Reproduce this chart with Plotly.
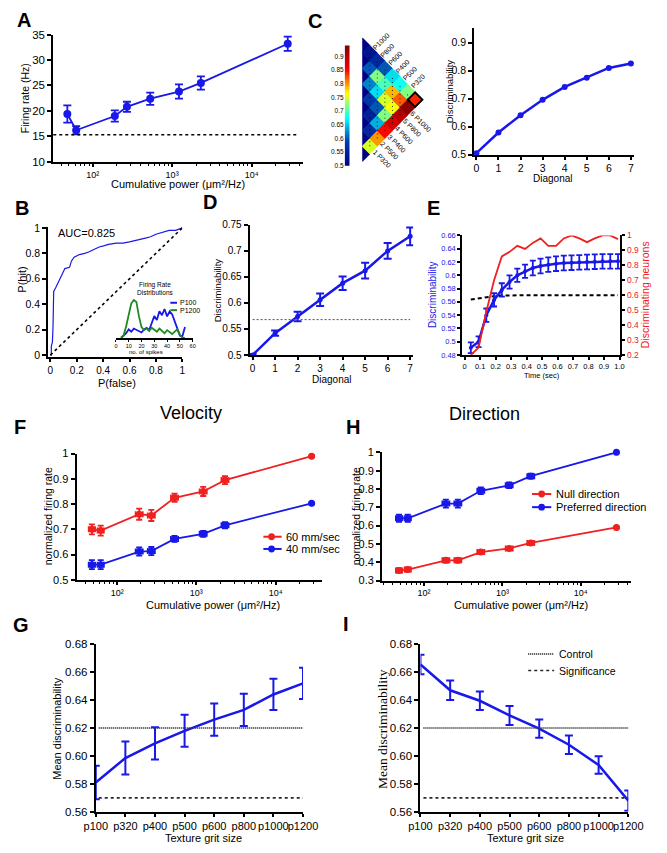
import numpy as np
import plotly.graph_objects as go

W, H = 667, 853
SANS = "Liberation Sans, Arial, Helvetica, sans-serif"
SERIF = "Liberation Serif, Times New Roman, serif"
BLUE = "#1818E8"
RED = "#F02020"
GREEN = "#1F8A1F"

# ---------------- data ----------------
power = [48, 62, 190, 270, 530, 1220, 2300, 28500]
rate_A = [19.4, 16.2, 19.0, 20.8, 22.4, 23.8, 25.5, 33.2]
rate_A_err = [1.7, 0.8, 1.1, 1.0, 1.2, 1.4, 1.3, 1.4]
rate_A_base = 15.3

roc_fpr = [0, 0.007, 0.007, 0.015, 0.02, 0.025, 0.04, 0.06, 0.08, 0.1, 0.11, 0.145, 0.16, 0.18, 0.22,
           0.26, 0.29, 0.33, 0.37, 0.41, 0.44, 0.5, 0.55, 0.6, 0.65, 0.68, 0.72, 0.76, 0.8, 0.83,
           0.87, 0.9, 0.95, 0.97, 1.0]
roc_tpr = [0, 0.0, 0.07, 0.1, 0.22, 0.5, 0.53, 0.57, 0.62, 0.66, 0.68, 0.69, 0.74, 0.77, 0.79,
           0.8, 0.81, 0.83, 0.85, 0.86, 0.87, 0.88, 0.88, 0.89, 0.9, 0.91, 0.92, 0.93, 0.95, 0.96,
           0.97, 0.98, 0.98, 0.99, 1.0]
roc_auc_label = "AUC=0.825"
spikes = [4, 6, 8, 10, 12, 14, 16, 18, 20, 22, 24, 26, 28, 30, 32, 34, 36, 38, 40, 42, 44, 46, 48, 50, 52, 54]
dist_p1200 = [0.02, 0.06, 0.3, 0.62, 0.88, 0.97, 0.92, 0.55, 0.28, 0.2, 0.24, 0.18, 0.26, 0.21, 0.16,
              0.24, 0.19, 0.12, 0.2, 0.14, 0.1, 0.16, 0.22, 0.08, 0.0, 0.0]
dist_p100 = [0.0, 0.06, 0.12, 0.22, 0.16, 0.24, 0.2, 0.17, 0.14, 0.22, 0.26, 0.2, 0.36, 0.56, 0.46,
             0.68, 0.58, 0.74, 0.55, 0.68, 0.6, 0.42, 0.22, 0.06, 0.05, 0.28]

heat_d0 = [0.5, 0.5, 0.5, 0.5, 0.5, 0.5, 0.5, 0.5]
heat_d1 = [0.75, 0.56, 0.55, 0.58, 0.62, 0.6, 0.53]
heat_d2 = [0.8, 0.64, 0.6, 0.66, 0.72, 0.56]
heat_d3 = [0.85, 0.72, 0.75, 0.7, 0.6]
heat_d4 = [0.88, 0.76, 0.79, 0.66]
heat_d5 = [0.9, 0.82, 0.68]
heat_d6 = [0.93, 0.72]
heat_d7 = [0.84]
heat_upper_labels = ["P1200", "P1000", "P800", "P600", "P400", "P500", "P320", "P100"]
heat_lower_labels = ["P100", "P320", "P500", "P400", "P600", "P800", "P1000", "P1200"]
cbar_ticks = [0.5, 0.55, 0.6, 0.65, 0.7, 0.75, 0.8, 0.85, 0.9]

diagonal = [0, 1, 2, 3, 4, 5, 6, 7]
diag_mean = [0.505, 0.579, 0.641, 0.696, 0.742, 0.775, 0.81, 0.826]

D_disc = [0.5, 0.542, 0.574, 0.606, 0.638, 0.662, 0.7, 0.728]
D_err = [0.002, 0.005, 0.009, 0.012, 0.013, 0.015, 0.015, 0.017]
D_sig = 0.568

E_time = [0.04, 0.09, 0.14, 0.19, 0.24, 0.29, 0.34, 0.39, 0.44, 0.49,
          0.54, 0.59, 0.64, 0.69, 0.74, 0.79, 0.84, 0.89, 0.94, 0.99]
E_disc = [0.491, 0.5, 0.54, 0.563, 0.578, 0.59, 0.6, 0.606, 0.611, 0.614,
          0.616, 0.6175, 0.6185, 0.619, 0.6195, 0.62, 0.6205, 0.621, 0.621, 0.621]
E_err = [0.008, 0.008, 0.01, 0.01, 0.01, 0.01, 0.01, 0.01, 0.011, 0.011,
         0.011, 0.011, 0.011, 0.011, 0.011, 0.011, 0.011, 0.011, 0.011, 0.011]
E_neurons = [0.2, 0.25, 0.49, 0.7, 0.86, 0.89, 0.93, 0.91, 0.95, 0.98,
             0.93, 0.93, 0.98, 1.0, 0.98, 0.955, 0.98, 1.0, 1.0, 0.975]
E_sig = [0.5635, 0.5655, 0.567, 0.5685, 0.5695, 0.57, 0.57, 0.57, 0.57, 0.57,
         0.57, 0.57, 0.57, 0.57, 0.57, 0.57, 0.57, 0.57, 0.57, 0.57]

F_60 = [0.70, 0.695, 0.76, 0.755, 0.825, 0.85, 0.895, 0.99]
F_60_err = [0.02, 0.02, 0.022, 0.022, 0.016, 0.018, 0.016, 0.004]
F_40 = [0.56, 0.56, 0.612, 0.614, 0.662, 0.682, 0.716, 0.803]
F_40_err = [0.018, 0.018, 0.016, 0.016, 0.012, 0.012, 0.012, 0.004]
H_pref = [0.64, 0.64, 0.72, 0.72, 0.79, 0.82, 0.87, 1.0]
H_pref_err = [0.02, 0.02, 0.022, 0.022, 0.018, 0.016, 0.014, 0.003]
H_null = [0.355, 0.36, 0.41, 0.41, 0.455, 0.475, 0.505, 0.59]
H_null_err = [0.012, 0.012, 0.012, 0.012, 0.01, 0.01, 0.008, 0.004]
power_err_dec = [0.04, 0.04, 0.045, 0.045, 0.045, 0.045, 0.045, 0.0]

grit = ["p100", "p320", "p400", "p500", "p600", "p800", "p1000", "p1200"]
G_disc = [0.581, 0.5985, 0.609, 0.618, 0.626, 0.633, 0.644, 0.652]
G_err = [0.012, 0.0118, 0.0115, 0.0114, 0.0115, 0.0115, 0.0112, 0.0112]
I_disc = [0.6655, 0.647, 0.6395, 0.629, 0.6195, 0.608, 0.5935, 0.568]
I_err = [0.007, 0.007, 0.0067, 0.0068, 0.0065, 0.0066, 0.0062, 0.0072]
control_level = 0.62
signif_level = 0.57

# ---------------- helpers ----------------
fig = go.Figure()
ann, shp = [], []


def xd(a, b):
    return [a / W, b / W]


def yd(top, bot):
    return [1 - bot / H, 1 - top / H]


def text(s, xp, yp, size, angle=0, color="black", bold=False, family=SANS, xanchor="center"):
    ann.append(dict(text=("<b>%s</b>" % s) if bold else s, x=xp / W, y=1 - yp / H,
                    xref="paper", yref="paper", showarrow=False, textangle=angle,
                    xanchor=xanchor, yanchor="middle",
                    font=dict(size=size, color=color, family=family)))


def base_axis(dom, rng, anchor, fsize, **kw):
    d = dict(range=rng, anchor=anchor, showline=True, linecolor="black", linewidth=2,
             ticks="outside", ticklen=4, tickwidth=2, tickcolor="black", showgrid=False,
             zeroline=False, tickangle=0, tickfont=dict(size=fsize, family=SANS, color="black"))
    if dom is not None:
        d["domain"] = dom
    d.update(kw)
    return d


def leg_line(x0, x1, y, color, dash="solid", width=2):
    shp.append(dict(type="line", xref="paper", yref="paper", x0=x0 / W, x1=x1 / W,
                    y0=1 - y / H, y1=1 - y / H, line=dict(color=color, width=width, dash=dash)))


def leg_dot(cx, cy, r, color):
    shp.append(dict(type="circle", xref="paper", yref="paper", x0=(cx - r) / W, x1=(cx + r) / W,
                    y0=1 - (cy + r) / H, y1=1 - (cy - r) / H, fillcolor=color,
                    line=dict(color=color, width=0)))


def tw(s, size):
    widths = {"P": 0.667, " ": 0.278}
    return sum(widths.get(c, 0.556) for c in s) * size


minor_vals = [k * 10 ** e for e in range(1, 5) for k in range(2, 10)]
minor_log = dict(tickmode="array", tickvals=minor_vals, ticks="outside", ticklen=2.5,
                 tickwidth=1.3, tickcolor="black", showgrid=False)
pow_ticks = dict(type="log", tickmode="array", tickvals=[100, 1000, 10000],
                 ticktext=["10²", "10³", "10⁴"], minor=minor_log)

L = {}
# A
L["xaxis"] = base_axis(xd(43, 303), [1.504, 4.644], "y", 9, ticklen=3, **pow_ticks)
L["yaxis"] = base_axis(yd(29, 158), [10, 35], "x", 11.5, tickvals=[10, 15, 20, 25, 30, 35])
# B
b_t = [0, 0.2, 0.4, 0.6, 0.8, 1]
b_tt = ["0", "0.2", "0.4", "0.6", "0.8", "1"]
L["xaxis2"] = base_axis(xd(37.7, 177.5), [-0.0168, 1.0], "y2", 10, tickvals=b_t, ticktext=b_tt,
                        ticklen=3)
L["yaxis2"] = base_axis(yd(224, 356), [-0.015, 1.008], "x2", 10.5, tickvals=b_t, ticktext=b_tt)
L["xaxis3"] = base_axis(xd(108.3, 188.3), [0, 60], "y3", 5.5, tickvals=[0, 10, 20, 30, 40, 50, 60],
                        linewidth=1.5, ticklen=2, tickwidth=1)
L["yaxis3"] = dict(domain=yd(295, 336.7), range=[0, 1.05], anchor="x3", visible=False)
# C heat
L["xaxis4"] = dict(domain=xd(365, 428), range=[0, 8], anchor="y4", visible=False)
L["yaxis4"] = dict(domain=yd(32, 158), range=[-1, 15], anchor="x4", visible=False)
L["xaxis5"] = dict(domain=xd(346.7, 352), range=[-0.5, 0.5], anchor="y5", visible=False)
L["yaxis5"] = dict(domain=yd(40, 162), range=[0.5, 0.94], anchor="x5", showline=False, ticks="",
                   showgrid=False, zeroline=False, tickmode="array", tickvals=cbar_ticks,
                   ticktext=[("%g" % v) for v in cbar_ticks],
                   tickfont=dict(size=6.5, family=SANS, color="black"))
# C right
L["xaxis6"] = base_axis(xd(481.7, 648), [-0.1, 7.13], "y6", 10.5, tickvals=diagonal, ticklen=3)
L["yaxis6"] = base_axis(yd(22.7, 150.7), [0.5, 0.9515], "x6", 10.5, tickvals=[0.5, 0.6, 0.7, 0.8, 0.9])
# D
d_t = [0.5, 0.55, 0.6, 0.65, 0.7, 0.75]
L["xaxis7"] = base_axis(xd(247.7, 418), [-0.13, 7.13], "y7", 10, tickvals=diagonal, ticklen=3)
L["yaxis7"] = base_axis(yd(221.7, 354), [0.5, 0.7505], "x7", 10, tickvals=d_t,
                        ticktext=[("%g" % v) for v in d_t])
# E
e_xt = [0, 0.1, 0.2, 0.3, 0.4, 0.5, 0.6, 0.7, 0.8, 0.9, 1.0]
e_xtt = ["0", "0.1", "0.2", "0.3", "0.4", "0.5", "0.6", "0.7", "0.8", "0.9", "1.0"]
e_yt = [0.48, 0.5, 0.52, 0.54, 0.56, 0.58, 0.6, 0.62, 0.64, 0.66]
e_rt = [0.2, 0.3, 0.4, 0.5, 0.6, 0.7, 0.8, 0.9, 1.0]
L["xaxis8"] = base_axis(xd(469.3, 634), [-0.015, 1.005], "y8", 7.5, tickvals=e_xt, ticktext=e_xtt,
                        ticklen=3)
L["yaxis8"] = base_axis(yd(232.7, 354), [0.48, 0.66], "x8", 7.5, tickvals=e_yt,
                        ticktext=[("%g" % v) for v in e_yt], ticklen=3,
                        tickfont=dict(size=7.5, family=SANS, color=BLUE))
L["yaxis9"] = base_axis(None, [0.2, 1.0], "x8", 8.5, overlaying="y8", side="right",
                        tickvals=e_rt, ticktext=[("%g" % v) for v in e_rt], ticklen=3,
                        tickfont=dict(size=8.5, family=SANS, color=RED))
# F, H
f_t = [0.5, 0.6, 0.7, 0.8, 0.9, 1.0]
h_t = [0.3, 0.4, 0.5, 0.6, 0.7, 0.8, 0.9, 1.0]
L["xaxis10"] = base_axis(xd(67.3, 323), [1.488, 4.585], "y10", 9, ticklen=3, **pow_ticks)
L["yaxis10"] = base_axis(yd(454, 582), [0.5, 1.0], "x10", 11, tickvals=f_t,
                         ticktext=[("%g" % v) for v in f_t])
L["xaxis11"] = base_axis(xd(385.7, 645), [1.465, 4.639], "y11", 9, ticklen=3, **pow_ticks)
L["yaxis11"] = base_axis(yd(452.7, 582.7), [0.3, 1.0], "x11", 11, tickvals=h_t,
                         ticktext=[("%g" % v) for v in h_t])
# G, I
g_t = [0.56, 0.58, 0.60, 0.62, 0.64, 0.66, 0.68]
g_tt = ["0.56", "0.58", "0.60", "0.62", "0.64", "0.66", "0.68"]
for n, (a, b) in ((12, (87.3, 303.3)), (13, (425.7, 642.3))):
    L["xaxis%d" % n] = base_axis(xd(a, b), [0, 7], "y%d" % n, 11, type="category",
                                 tickmode="array", tickvals=grit, ticktext=grit, ticklen=3)
    L["yaxis%d" % n] = base_axis(yd(647.3, 817.3), [0.56, 0.68], "x%d" % n, 11.5,
                                 tickvals=g_t, ticktext=g_tt)

# ---------------- traces ----------------
# A
fig.add_trace(go.Scatter(x=power, y=rate_A, mode="lines+markers", line=dict(color=BLUE, width=1.8),
                         marker=dict(size=8, color=BLUE),
                         error_y=dict(type="data", array=rate_A_err, color=BLUE, thickness=1.8, width=4),
                         xaxis="x", yaxis="y", cliponaxis=False))
shp.append(dict(type="line", xref="x domain", yref="y", x0=0, x1=0.98, y0=rate_A_base, y1=rate_A_base,
                line=dict(color="black", width=1.5, dash="3px,3px")))

# B
shp.append(dict(type="line", xref="x2", yref="y2", x0=0, y0=0, x1=1, y1=1,
                line=dict(color="black", width=1.6, dash="dot")))
fig.add_trace(go.Scatter(x=roc_fpr, y=roc_tpr, mode="lines", line=dict(color=BLUE, width=1.2),
                         xaxis="x2", yaxis="y2", cliponaxis=False))
fig.add_trace(go.Scatter(x=spikes, y=dist_p100, mode="lines", line=dict(color=BLUE, width=1.8),
                         xaxis="x3", yaxis="y3"))
fig.add_trace(go.Scatter(x=spikes, y=dist_p1200, mode="lines", line=dict(color=GREEN, width=1.8),
                         xaxis="x3", yaxis="y3"))

# C heat (diamond cells of the rotated triangular matrix)
heat_cols = [heat_d0, heat_d1, heat_d2, heat_d3, heat_d4, heat_d5, heat_d6, heat_d7]
hx, hy, hv = [], [], []
for d, col in enumerate(heat_cols):
    for k, v in enumerate(col):
        hx.append(d)
        hy.append(d + 2 * k)
        hv.append(v)
fig.add_trace(go.Scatter(x=hx, y=hy, mode="markers",
                         marker=dict(symbol="diamond", size=12.4, color=hv, colorscale="Jet",
                                     cmin=0.5, cmax=0.94, line=dict(width=0)),
                         xaxis="x4", yaxis="y4", cliponaxis=True, hoverinfo="skip"))
for d in range(1, 7):
    shp.append(dict(type="line", xref="x4", yref="y4", x0=d, x1=d, y0=d, y1=14 - d,
                    line=dict(color="black", width=0.8, dash="1px,3px")))
fig.add_trace(go.Scatter(x=[hx[-1]], y=[hy[-1]], mode="markers",
                         marker=dict(symbol="diamond", size=11.2, color=[hv[-1]], colorscale="Jet",
                                     cmin=0.5, cmax=0.94, line=dict(width=2, color="black")),
                         xaxis="x4", yaxis="y4", cliponaxis=False, hoverinfo="skip"))
cb_vals = np.linspace(0.5, 0.94, 89)
fig.add_trace(go.Heatmap(z=[[v] for v in cb_vals], x=[0], y=cb_vals, colorscale="Jet",
                         zmin=0.5, zmax=0.94, showscale=False, xaxis="x5", yaxis="y5"))
unit = 7.875
for d, name in enumerate(heat_upper_labels):
    s = (1.0 + tw(name, 7) / 2) / np.sqrt(2) / unit
    ann.append(dict(text=name, x=d + 0.5 + s, y=14.5 - d + s, xref="x4", yref="y4", showarrow=False,
                    textangle=-45, xanchor="center", yanchor="middle",
                    font=dict(size=7, family=SANS, color="black")))
for d, name in enumerate(heat_lower_labels):
    lab = "%d %s" % (d, name)
    s = (1.0 + tw(lab, 7) / 2) / np.sqrt(2) / unit
    ann.append(dict(text=lab, x=d + 0.5 + s, y=d - 0.5 - s, xref="x4", yref="y4", showarrow=False,
                    textangle=45, xanchor="center", yanchor="middle",
                    font=dict(size=7, family=SANS, color="black")))

# C right
fig.add_trace(go.Scatter(x=diagonal, y=diag_mean, mode="lines+markers", line=dict(color=BLUE, width=2.5),
                         marker=dict(size=6, color=BLUE), xaxis="x6", yaxis="y6", cliponaxis=False))

# D
shp.append(dict(type="line", xref="x7", yref="y7", x0=0, x1=7, y0=D_sig, y1=D_sig,
                line=dict(color="rgb(80,80,80)", width=1, dash="2px,2px")))
fig.add_trace(go.Scatter(x=diagonal, y=D_disc, mode="lines+markers", line=dict(color=BLUE, width=2.5),
                         marker=dict(size=5, color=BLUE),
                         error_y=dict(type="data", array=D_err, color=BLUE, thickness=2, width=4),
                         xaxis="x7", yaxis="y7", cliponaxis=False))

# E
fig.add_trace(go.Scatter(x=E_time, y=E_sig, mode="lines", line=dict(color="black", width=2, dash="4px,3px"),
                         xaxis="x8", yaxis="y8"))
fig.add_trace(go.Scatter(x=E_time, y=E_disc, mode="lines+markers", line=dict(color=BLUE, width=2.5),
                         marker=dict(size=4, color=BLUE),
                         error_y=dict(type="data", array=E_err, color=BLUE, thickness=1.8, width=3),
                         xaxis="x8", yaxis="y8", cliponaxis=False))
fig.add_trace(go.Scatter(x=E_time, y=E_neurons, mode="lines", line=dict(color=RED, width=1.8),
                         xaxis="x8", yaxis="y9", cliponaxis=False))

# F, H
ex_plus = [p * (10 ** e - 1) for p, e in zip(power, power_err_dec)]
ex_minus = [p * (1 - 10 ** -e) for p, e in zip(power, power_err_dec)]


def fh_trace(yv, ye, color, xa, ya):
    return go.Scatter(x=power, y=yv, mode="lines+markers", line=dict(color=color, width=1.8),
                      marker=dict(size=7, color=color),
                      error_y=dict(type="data", array=ye, color=color, thickness=1.8, width=3),
                      error_x=dict(type="data", array=ex_plus, arrayminus=ex_minus, color=color,
                                   thickness=1.8, width=3),
                      xaxis=xa, yaxis=ya, cliponaxis=False)


fig.add_trace(fh_trace(F_60, F_60_err, RED, "x10", "y10"))
fig.add_trace(fh_trace(F_40, F_40_err, BLUE, "x10", "y10"))
fig.add_trace(fh_trace(H_pref, H_pref_err, BLUE, "x11", "y11"))
fig.add_trace(fh_trace(H_null, H_null_err, RED, "x11", "y11"))

# G, I
for n, vals, errs in ((12, G_disc, G_err), (13, I_disc, I_err)):
    shp.append(dict(type="line", xref="x%d" % n, yref="y%d" % n, x0=0.1, x1=7.05,
                    y0=control_level, y1=control_level,
                    line=dict(color="rgb(60,60,60)", width=2, dash="1px,1px")))
    shp.append(dict(type="line", xref="x%d" % n, yref="y%d" % n, x0=0.1, x1=7.0,
                    y0=signif_level, y1=signif_level,
                    line=dict(color="rgb(40,40,40)", width=1.6, dash="3px,3px")))
    fig.add_trace(go.Scatter(x=grit, y=vals, mode="lines", line=dict(color=BLUE, width=2.5),
                             error_y=dict(type="data", array=errs, color=BLUE, thickness=2, width=4),
                             xaxis="x%d" % n, yaxis="y%d" % n, cliponaxis=False))

# ---------------- texts ----------------
for lab, x, y in (("A", 13, 14), ("B", 10, 205), ("C", 316, 15), ("D", 206, 199), ("E", 439, 205),
                  ("F", 8, 427), ("H", 355, 427), ("G", 9.5, 628), ("I", 348.5, 627)):
    text(lab, x, y, 20, bold=True)

text("Firing rate (Hz)", 13, 93, 10.5, angle=-90)
text("Cumulative power (μm²/Hz)", 173, 180.5, 11)
text("P(hit)", 10, 278, 11, angle=-90)
text("P(false)", 109, 382, 11)
text(roc_auc_label, 78, 230, 11)
text("Firing Rate<br>Distributions", 150, 287, 6.5)
text("no. of spikes", 140, 351, 6)
leg_line(165, 172, 301, BLUE, width=2)
text("P100", 173.5, 301, 7, xanchor="left")
leg_line(165, 172, 308.5, GREEN, width=2)
text("P1200", 173.5, 308.5, 7, xanchor="left")

text("Discriminability", 456, 87, 9.5, angle=-90)
text("Diagonal", 563, 175, 10)
text("Discriminability", 215, 288, 9.5, angle=-90)
text("Diagonal", 333, 379, 10)
text("Discriminability", 439, 293, 10, angle=-90, color=BLUE)
text("Discriminating neurons", 660, 293, 10.5, angle=-90, color=RED)
text("Time (sec)", 552, 375, 7.5)

text("Velocity", 187, 413, 18)
text("Direction", 492, 414, 18)
text("normalized firing rate", 37, 518, 10.5, angle=-90)
text("Cumulative power (μm²/Hz)", 210, 607.5, 11)
text("normalized firing rate", 358, 518, 10.5, angle=-90)
text("Cumulative power (μm²/Hz)", 530, 607.5, 11)
leg_line(262, 281, 538.3, RED, width=2)
leg_dot(270.5, 538.3, 3.5, RED)
text("60 mm/sec", 283, 538.3, 11, xanchor="left")
leg_line(262, 281, 550.7, BLUE, width=2)
leg_dot(270.5, 550.7, 3.5, BLUE)
text("40 mm/sec", 283, 550.7, 11, xanchor="left")
leg_line(542, 562, 495, RED, width=2)
leg_dot(552, 495, 3.5, RED)
text("Null direction", 565, 495, 11, xanchor="left")
leg_line(542, 562, 508.3, BLUE, width=2)
leg_dot(552, 508.3, 3.5, BLUE)
text("Preferred direction", 565, 508.3, 11, xanchor="left")

text("Mean discriminability", 47, 733, 11, angle=-90)
text("Texture grit size", 200, 844, 11)
text("Mean discriminability", 386, 733, 13.5, angle=-90, family=SERIF)
text("Texture grit size", 535, 844, 11)
leg_line(538, 565, 657.3, "rgb(60,60,60)", dash="1px,1px", width=2)
text("Control", 567.5, 657.3, 10.5, xanchor="left")
leg_line(538, 565, 674, "rgb(40,40,40)", dash="3px,3px", width=1.6)
text("Significance", 567.5, 674, 10.5, xanchor="left")

fig.update_layout(width=W, height=H, margin=dict(l=0, r=0, t=0, b=0), paper_bgcolor="white",
                  plot_bgcolor="white", showlegend=False, font=dict(family=SANS, color="black"),
                  annotations=ann, shapes=shp, **L)
fig.write_html("out.html", config={"displayModeBar": False},
               post_script="document.body.style.margin='0';document.body.style.padding='0';"
                           "document.body.style.overflow='hidden';")
